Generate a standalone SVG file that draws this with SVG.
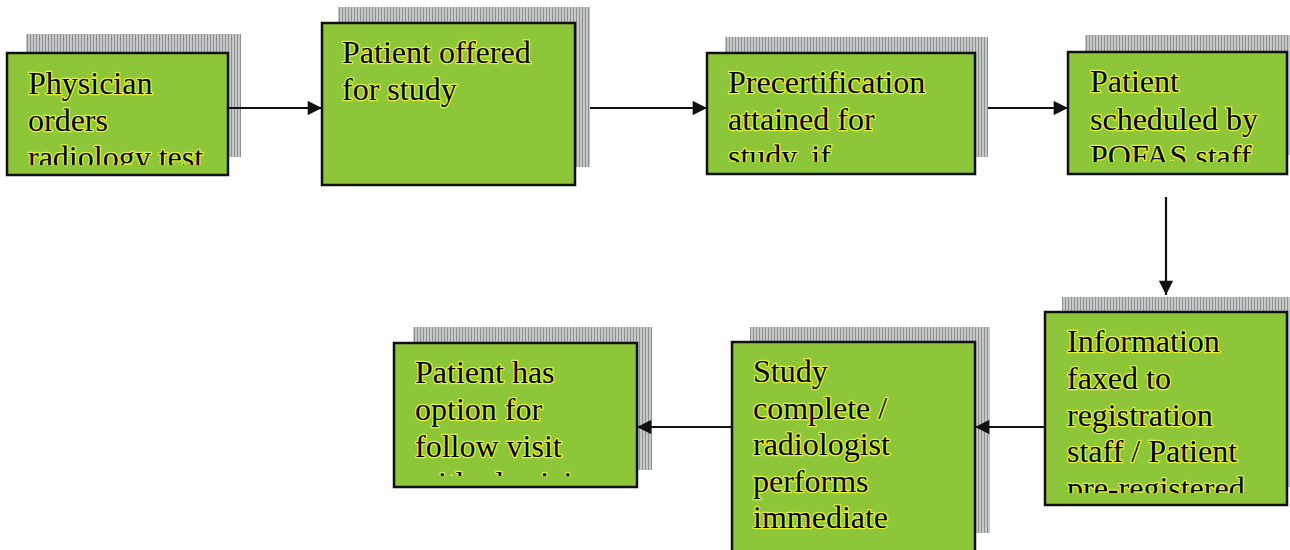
<svg xmlns="http://www.w3.org/2000/svg" width="1290" height="550" viewBox="0 0 1290 550">
<style>
.box{fill:#8ec63a;stroke:#111;stroke-width:2.5}
.sh{fill:url(#stripes)}
.t{font-family:"Liberation Serif","Times New Roman",serif;font-size:32px;fill:#000;stroke:#e4f23a;stroke-width:2.5;paint-order:stroke;stroke-linejoin:round}
.c{stroke:#111;stroke-width:2.2;fill:none;marker-end:url(#ah)}
</style>
<defs>
<pattern id="stripes" width="3" height="4" patternUnits="userSpaceOnUse">
<rect width="3" height="4" fill="#c4c8c8"/>
<rect width="1" height="4" fill="#8e9090"/>
</pattern>
<marker id="ah" viewBox="0 0 10 10" refX="10" refY="5" markerWidth="7" markerHeight="6.5" markerUnits="strokeWidth" orient="auto">
<path d="M0,0 L10,5 L0,10 z" fill="#111"/>
</marker>
<clipPath id="c1"><rect x="9" y="55" width="217" height="110"/></clipPath>
<clipPath id="c2"><rect x="324" y="25" width="249" height="158"/></clipPath>
<clipPath id="c3"><rect x="709" y="55" width="264" height="107"/></clipPath>
<clipPath id="c4"><rect x="1070" y="54" width="215" height="108"/></clipPath>
<clipPath id="c5"><rect x="1047" y="314" width="238" height="179"/></clipPath>
<clipPath id="c6"><rect x="396" y="345" width="239" height="131"/></clipPath>
<clipPath id="c7"><rect x="734" y="344" width="239" height="210"/></clipPath>
</defs>
<g id="n1">
<rect class="sh" x="26" y="34" width="215" height="123"/>
<rect class="box" x="7" y="53" width="221" height="122"/>
<g clip-path="url(#c1)"><text class="t" x="28" y="94">Physician</text><text class="t" x="28" y="131">orders</text><text class="t" x="28" y="168">radiology test</text></g>
</g>
<g id="n2">
<rect class="sh" x="338" y="7" width="252" height="160"/>
<rect class="box" x="322" y="23" width="253" height="162"/>
<g clip-path="url(#c2)"><text class="t" x="342" y="63">Patient offered</text><text class="t" x="342" y="100">for study</text></g>
</g>
<g id="n3">
<rect class="sh" x="725" y="37" width="263" height="120"/>
<rect class="box" x="707" y="53" width="268" height="121"/>
<g clip-path="url(#c3)"><text class="t" x="728" y="93">Precertification</text><text class="t" x="728" y="130">attained for</text><text class="t" x="728" y="167">study, if</text></g>
</g>
<g id="n4">
<rect class="sh" x="1085" y="35" width="205" height="120"/>
<rect class="box" x="1068" y="52" width="219" height="122"/>
<g clip-path="url(#c4)"><text class="t" x="1090" y="92">Patient</text><text class="t" x="1090" y="130">scheduled by</text><text class="t" x="1090" y="167">POFAS staff</text></g>
</g>
<g id="n5">
<rect class="sh" x="1062" y="297" width="228" height="190"/>
<rect class="box" x="1045" y="312" width="242" height="193"/>
<g clip-path="url(#c5)"><text class="t" x="1067" y="352">Information</text><text class="t" x="1067" y="389">faxed to</text><text class="t" x="1067" y="426">registration</text><text class="t" x="1067" y="462">staff / Patient</text><text class="t" x="1067" y="499">pre-registered</text></g>
</g>
<g id="n6">
<rect class="sh" x="413" y="327" width="239" height="143"/>
<rect class="box" x="394" y="343" width="243" height="144"/>
<g clip-path="url(#c6)"><text class="t" x="415" y="383">Patient has</text><text class="t" x="415" y="420">option for</text><text class="t" x="415" y="457">follow visit</text><text class="t" x="415" y="494">with physician</text></g>
</g>
<g id="n7">
<rect class="sh" x="750" y="327" width="240" height="206"/>
<rect class="box" x="732" y="342" width="243" height="220"/>
<g clip-path="url(#c7)"><text class="t" x="753" y="382">Study</text><text class="t" x="753" y="419">complete /</text><text class="t" x="753" y="455">radiologist</text><text class="t" x="753" y="492">performs</text><text class="t" x="753" y="528">immediate</text></g>
</g>
<g id="connectors">
<line class="c" x1="228" y1="108" x2="322" y2="108"/>
<line class="c" x1="590" y1="108" x2="707" y2="108"/>
<line class="c" x1="988" y1="108" x2="1068" y2="108"/>
<line class="c" x1="1166" y1="197" x2="1166" y2="295"/>
<line class="c" x1="1045" y1="427" x2="975" y2="427"/>
<line class="c" x1="732" y1="427" x2="637" y2="427"/>
</g>
</svg>
